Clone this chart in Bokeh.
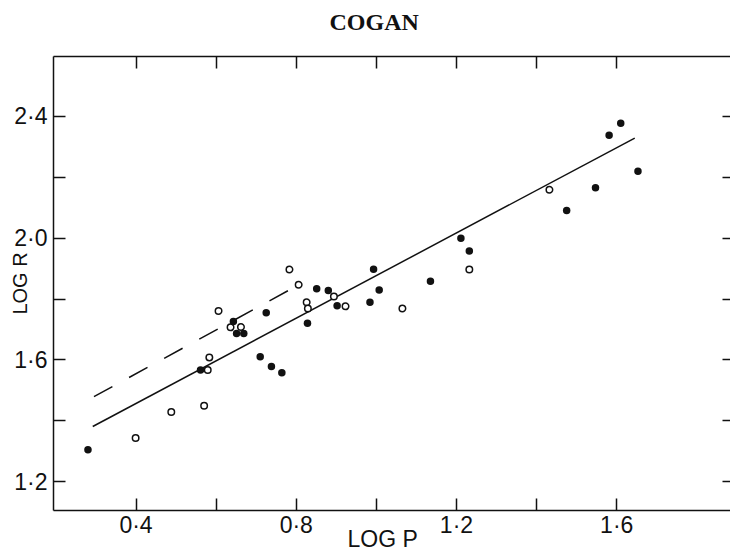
from bokeh.plotting import figure
from bokeh.models import FixedTicker, LinearAxis, Range1d, Title
from bokeh.embed import file_html
from bokeh.resources import INLINE

# ---- data ----
filled_x = [0.280, 0.561, 0.643, 0.651, 0.669, 0.710, 0.725, 0.738, 0.764, 0.828,
            0.851, 0.880, 0.902, 0.984, 0.993, 1.007, 1.135, 1.211, 1.232, 1.475,
            1.547, 1.581, 1.610, 1.653]
filled_y = [1.305, 1.567, 1.726, 1.687, 1.687, 1.610, 1.755, 1.578, 1.558, 1.720,
            1.834, 1.828, 1.778, 1.789, 1.898, 1.830, 1.858, 2.000, 1.958, 2.091,
            2.166, 2.338, 2.378, 2.220]

open_x = [0.399, 0.488, 0.570, 0.579, 0.583, 0.606, 0.636, 0.662, 0.783, 0.806,
          0.826, 0.829, 0.894, 0.923, 1.065, 1.232, 1.432]
open_y = [1.343, 1.429, 1.449, 1.567, 1.608, 1.761, 1.707, 1.708, 1.897, 1.847,
          1.789, 1.769, 1.808, 1.776, 1.769, 1.897, 2.159]

fit_x = [0.292, 1.645]
fit_y = [1.381, 2.329]
dash_x = [0.295, 0.783]
dash_y = [1.479, 1.830]

x_major = [0.4, 0.8, 1.2, 1.6]
x_minor = [0.6, 1.0, 1.4]
x_labels = ["0·4", "0·8", "1·2", "1·6"]
y_major = [1.2, 1.6, 2.0, 2.4]
y_minor = [1.4, 1.8, 2.2]
y_labels = ["1·2", "1·6", "2·0", "2·4"]

title_text = "COGAN"
x_title = "LOG P"
y_title = "LOG R"

INK = "#111111"
SANS = "Liberation Sans"

p = figure(width=730, height=552, output_backend="svg", toolbar_location=None,
           x_range=Range1d(0.194, 1.884), y_range=Range1d(1.105, 2.597),
           x_axis_location=None, y_axis_location=None,
           min_border_left=53, min_border_right=0, min_border_top=56,
           min_border_bottom=42)
p.outline_line_color = None
p.background_fill_color = "white"
p.border_fill_color = "white"
for g in p.grid:
    g.visible = False

# title sits well above the frame: an empty second line lifts it
p.title.text = title_text + "\n"
p.title.text_font = "Liberation Serif"
p.title.text_font_style = "bold"
p.title.text_font_size = "24px"
p.title.text_color = INK
p.title.text_line_height = 0.82
p.title.align = "left"
p.title.offset = 276
p.title.vertical_align = "bottom"
p.title.standoff = 0


def make_axis(major, minor, labels, show_labels, tick_len, draw_line=True):
    ax = LinearAxis(ticker=FixedTicker(ticks=major, minor_ticks=minor))
    ax.major_tick_in = tick_len
    ax.major_tick_out = 0
    ax.minor_tick_in = tick_len
    ax.minor_tick_out = 0
    ax.major_tick_line_color = INK
    ax.minor_tick_line_color = INK
    ax.major_tick_line_width = 1.5
    ax.minor_tick_line_width = 1.5
    ax.axis_line_width = 1.5
    ax.axis_line_color = INK if draw_line else None
    if show_labels:
        ax.major_label_overrides = dict(zip(major, labels))
        ax.major_label_text_font = SANS
        ax.major_label_text_font_size = "23px"
        ax.major_label_text_color = INK
        ax.axis_label_text_font = SANS
        ax.axis_label_text_font_style = "normal"
        ax.axis_label_text_color = INK
    else:
        ax.major_label_text_font_size = "0px"
        ax.major_label_text_color = None
        ax.major_label_standoff = 0
    return ax


bottom = make_axis(x_major, x_minor, x_labels, True, 12)
bottom.major_label_standoff = 1

top = make_axis(x_major, x_minor, x_labels, False, 12)

left = make_axis(y_major, y_minor, y_labels, True, 12)
left.major_label_standoff = 6
left.axis_label = y_title
left.axis_label_text_font_size = "20px"
left.axis_label_standoff = -20

right = make_axis(y_major, y_minor, y_labels, False, 8, draw_line=False)

p.add_layout(bottom, "below")
p.add_layout(top, "above")
p.add_layout(left, "left")
p.add_layout(right, "right")

# x-axis title, placed under the tick labels, a little left of centre
x_label = Title(text=x_title, text_font=SANS, text_font_style="normal",
                text_font_size="23px", text_color=INK, align="left",
                offset=294, vertical_align="top", standoff=-30)
p.add_layout(x_label, "below")

# lines
p.line(fit_x, fit_y, line_color=INK, line_width=1.5)
p.line(dash_x, dash_y, line_color=INK, line_width=1.5, line_dash="21 19")

# points
p.scatter(open_x, open_y, size=6.5, marker="circle", fill_color="white",
          line_color=INK, line_width=1.5)
p.scatter(filled_x, filled_y, size=7.5, marker="circle", fill_color=INK,
          line_color=None)

open("out.html", "w").write(file_html(p, INLINE))
